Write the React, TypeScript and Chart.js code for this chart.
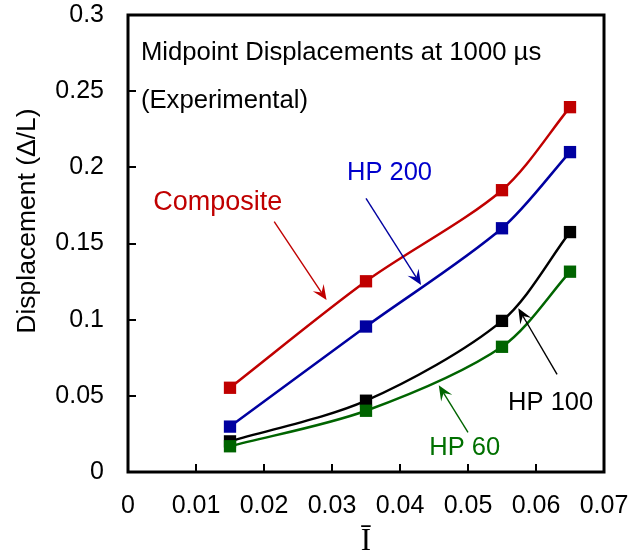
import React, { useEffect, useRef } from "react";
import { Chart, registerables } from "chart.js";

Chart.register(...registerables);

// ---- data ----
const xValues = [0.015, 0.035, 0.055, 0.065];
const composite = [0.0553, 0.1252, 0.185, 0.2395];
const hp200 = [0.0298, 0.0955, 0.16, 0.21];
const hp100 = [0.0201, 0.0468, 0.0992, 0.1575];
const hp60 = [0.0169, 0.0402, 0.0822, 0.1315];

const xTickValues = [0, 0.01, 0.02, 0.03, 0.04, 0.05, 0.06, 0.07];
const xTickLabels = ["0", "0.01", "0.02", "0.03", "0.04", "0.05", "0.06", "0.07"];
const yTickValues = [0, 0.05, 0.1, 0.15, 0.2, 0.25, 0.3];
const yTickLabels = ["0", "0.05", "0.1", "0.15", "0.2", "0.25", "0.3"];

const titleLines = ["Midpoint Displacements at 1000 µs", "(Experimental)"];
const titleX = 0.0019;
const titleY = [0.2751, 0.2437];
const yTitle = "Displacement (Δ/L)";
const xTitle = "Ī";

// annotation labels (positions in data units)
const labelTexts = ["Composite", "HP 200", "HP 100", "HP 60"];
const labelX = [0.0037, 0.0322, 0.0559, 0.0443];
const labelY = [0.1766, 0.1961, 0.0451, 0.0161];
const labelSizes = [27, 25.5, 25.5, 25.5];
// arrows: start -> tip in data units
const arrowFromX = [0.0215, 0.035, 0.0631, 0.05];
const arrowFromY = [0.1643, 0.1797, 0.0641, 0.026];
const arrowToX = [0.0292, 0.0431, 0.0574, 0.0457];
const arrowToY = [0.1129, 0.1228, 0.1075, 0.0569];

const lineColors = ["#C00000", "#0000A0", "#000000", "#006400"];
const textColors = ["#C00000", "#0000CC", "#000000", "#007000"];

const FONT = "'Liberation Sans', Arial, sans-serif";

function toPts(ys: number[]) {
  return xValues.map((x, i) => ({ x, y: ys[i] }));
}

const decorPlugin = {
  id: "decor",
  afterDatasetsDraw(chart: any) {
    const { ctx, chartArea, scales } = chart;
    const xs = scales.x;
    const ys = scales.y;
    ctx.save();
    // inward tick marks
    ctx.strokeStyle = "#000";
    ctx.lineWidth = 2;
    ctx.beginPath();
    xTickValues.forEach((v) => {
      const px = Math.round(xs.getPixelForValue(v));
      ctx.moveTo(px, chartArea.bottom);
      ctx.lineTo(px, chartArea.bottom - 8);
    });
    yTickValues.forEach((v) => {
      const py = Math.round(ys.getPixelForValue(v));
      ctx.moveTo(chartArea.left, py);
      ctx.lineTo(chartArea.left + 8, py);
    });
    ctx.stroke();
    // frame
    ctx.lineWidth = 3;
    ctx.strokeRect(
      chartArea.left,
      chartArea.top,
      chartArea.right - chartArea.left,
      chartArea.bottom - chartArea.top
    );

    // title lines
    ctx.fillStyle = "#000";
    ctx.font = `25.7px ${FONT}`;
    ctx.textAlign = "left";
    ctx.textBaseline = "middle";
    titleLines.forEach((t, i) => {
      ctx.fillText(t, xs.getPixelForValue(titleX), ys.getPixelForValue(titleY[i]));
    });

    // labels
    labelTexts.forEach((t, i) => {
      ctx.font = `${labelSizes[i]}px ${FONT}`;
      ctx.fillStyle = textColors[i];
      ctx.fillText(t, xs.getPixelForValue(labelX[i]), ys.getPixelForValue(labelY[i]));
    });

    // arrows
    labelTexts.forEach((_, i) => {
      const x1 = xs.getPixelForValue(arrowFromX[i]);
      const y1 = ys.getPixelForValue(arrowFromY[i]);
      const x2 = xs.getPixelForValue(arrowToX[i]);
      const y2 = ys.getPixelForValue(arrowToY[i]);
      const ang = Math.atan2(y2 - y1, x2 - x1);
      const len = 15;
      const half = 6.5;
      const notch = 9;
      ctx.strokeStyle = lineColors[i];
      ctx.fillStyle = lineColors[i];
      ctx.lineWidth = 1.4;
      ctx.beginPath();
      ctx.moveTo(x1, y1);
      ctx.lineTo(x2 - Math.cos(ang) * notch, y2 - Math.sin(ang) * notch);
      ctx.stroke();
      const bx = x2 - Math.cos(ang) * len;
      const by = y2 - Math.sin(ang) * len;
      const nx = -Math.sin(ang);
      const ny = Math.cos(ang);
      ctx.beginPath();
      ctx.moveTo(x2, y2);
      ctx.lineTo(bx + nx * half, by + ny * half);
      ctx.lineTo(x2 - Math.cos(ang) * notch, y2 - Math.sin(ang) * notch);
      ctx.lineTo(bx - nx * half, by - ny * half);
      ctx.closePath();
      ctx.fill();
    });

    // axis titles
    ctx.fillStyle = "#000";
    ctx.font = `26.5px ${FONT}`;
    ctx.textAlign = "center";
    ctx.save();
    ctx.translate(28, 221);
    ctx.rotate(-Math.PI / 2);
    ctx.fillText(yTitle, 0, 0);
    ctx.restore();
    ctx.font = `31px 'Liberation Serif', 'Times New Roman', serif`;
    ctx.textBaseline = "alphabetic";
    ctx.fillText(xTitle, (chartArea.left + chartArea.right) / 2, 550);
    ctx.restore();
  },
};

export default function App() {
  const ref = useRef<HTMLCanvasElement | null>(null);
  useEffect(() => {
    if (!ref.current) return;
    const series = [composite, hp200, hp100, hp60];
    const chart = new Chart(ref.current, {
      type: "line",
      data: {
        datasets: series.map((s, i) => ({
          label: labelTexts[i],
          data: toPts(s),
          borderColor: lineColors[i],
          backgroundColor: lineColors[i],
          borderWidth: 2.5,
          tension: 0.3,
          pointStyle: "rect",
          pointRadius: 8.7,
          pointBorderWidth: 0,
          pointHoverRadius: 8.7,
          order: 3 - i,
          fill: false,
        })),
      },
      options: {
        animation: false,
        responsive: false,
        devicePixelRatio: 1,
        layout: { padding: { top: 15, right: 29, left: 0, bottom: 0 } },
        plugins: {
          legend: { display: false },
          tooltip: { enabled: false },
          title: { display: false },
        },
        events: [],
        scales: {
          x: {
            type: "linear",
            min: 0,
            max: 0.07,
            afterBuildTicks: (s: any) => {
              s.ticks = xTickValues.map((v) => ({ value: v }));
            },
            afterFit: (s: any) => {
              s.height = 80;
              s.paddingLeft = 0;
              s.paddingRight = 0;
              s.paddingTop = 0;
              s.paddingBottom = 0;
            },
            grid: { display: false, drawTicks: false, tickLength: 0 },
            border: { display: false },
            ticks: {
              padding: 19,
              color: "#000",
              font: { family: FONT, size: 25 },
              maxRotation: 0,
              autoSkip: false,
              callback: (_v: any, i: number) => xTickLabels[i],
            },
          },
          y: {
            type: "linear",
            min: 0,
            max: 0.3,
            afterBuildTicks: (s: any) => {
              s.ticks = yTickValues.map((v) => ({ value: v }));
            },
            afterFit: (s: any) => {
              s.width = 128;
              s.paddingLeft = 0;
              s.paddingRight = 0;
              s.paddingTop = 0;
              s.paddingBottom = 0;
            },
            grid: { display: false, drawTicks: false, tickLength: 0 },
            border: { display: false },
            ticks: {
              padding: 24,
              color: "#000",
              font: { family: FONT, size: 25 },
              autoSkip: false,
              callback: (_v: any, i: number) => yTickLabels[i],
            },
          },
        },
      },
      plugins: [decorPlugin],
    } as any);
    return () => chart.destroy();
  }, []);
  return (
    <div style={{ position: "absolute", left: 0, top: 0, width: 633, height: 552, background: "#fff" }}>
      <canvas ref={ref} width={633} height={552} />
    </div>
  );
}
